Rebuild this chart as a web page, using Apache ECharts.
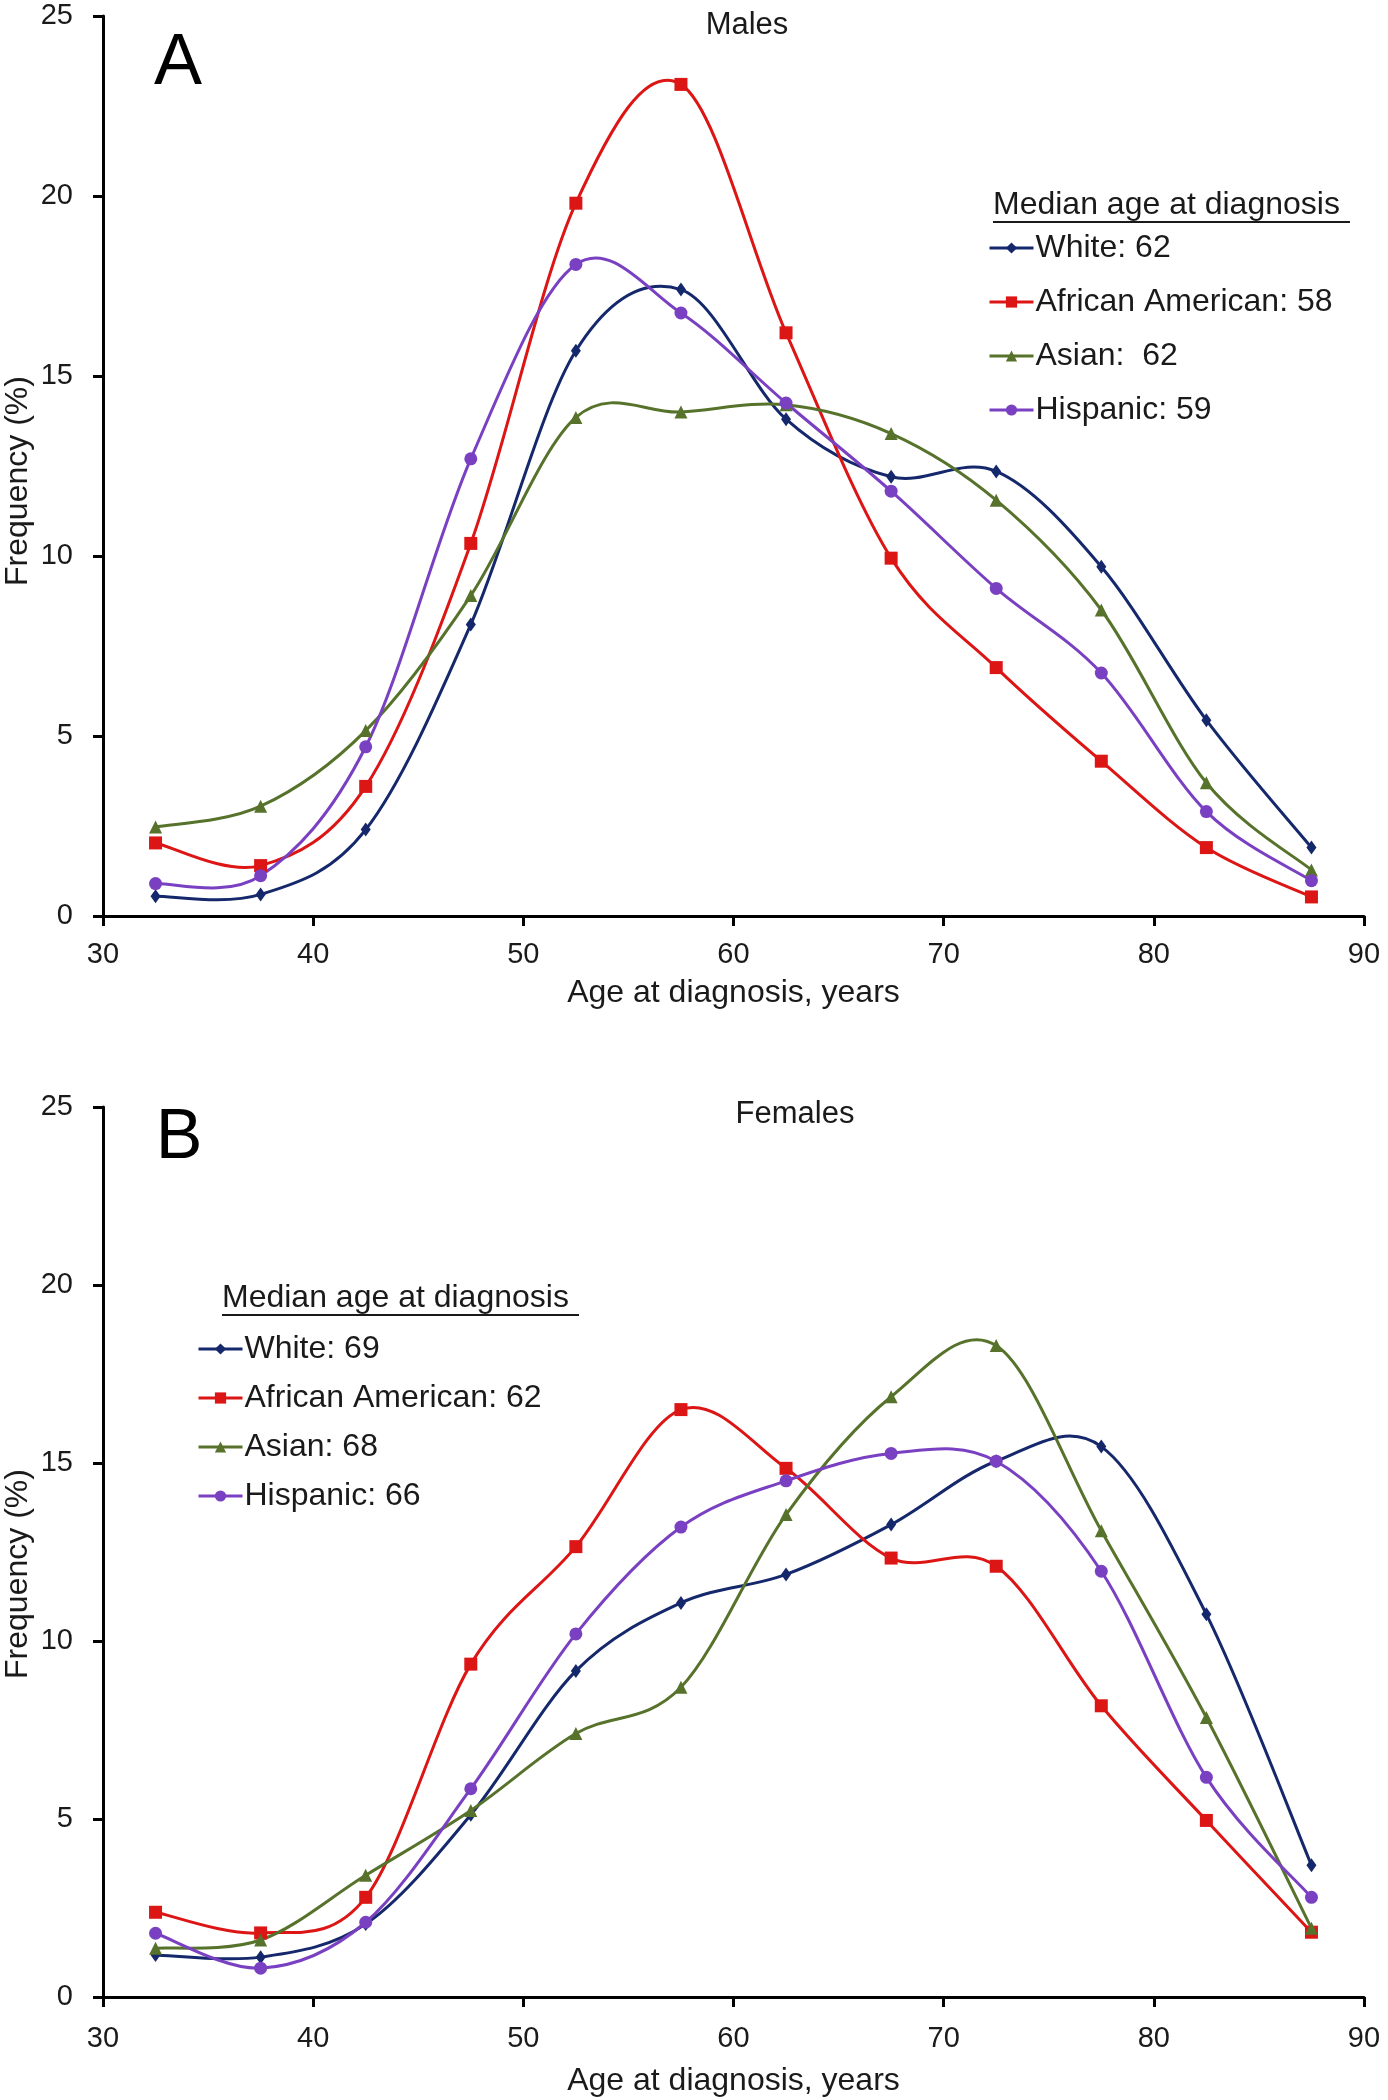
<!DOCTYPE html>
<html>
<head>
<meta charset="utf-8">
<script src="https://cdn.jsdelivr.net/npm/echarts@6/dist/echarts.min.js"></script>
<style>
  html, body { margin: 0; padding: 0; background: #ffffff; }
  #chart { width: 1388px; height: 2100px; }
</style>
</head>
<body>
<div id="chart"></div>
<script>
// ---- data ----
const ages = [32.5, 37.5, 42.5, 47.5, 52.5, 57.5, 62.5, 67.5, 72.5, 77.5, 82.5, 87.5];
const xTicks = [30, 40, 50, 60, 70, 80, 90];
const yTicks = [0, 5, 10, 15, 20, 25];

const maleNames = ['White: 62', 'African American: 58', 'Asian:  62', 'Hispanic: 59'];
const maleWhite    = [0.55, 0.6, 2.4, 8.1, 15.7, 17.4, 13.8, 12.2, 12.35, 9.7, 5.44, 1.9];
const maleAfrAm    = [2.03, 1.4, 3.6, 10.35, 19.8, 23.1, 16.2, 9.94, 6.9, 4.3, 1.9, 0.53];
const maleAsian    = [2.47, 3.05, 5.15, 8.9, 13.85, 14.0, 14.2, 13.4, 11.55, 8.5, 3.7, 1.28];
const maleHispanic = [0.9, 1.12, 4.7, 12.7, 18.1, 16.75, 14.25, 11.8, 9.1, 6.75, 2.9, 0.98];

const femaleNames = ['White: 69', 'African American: 62', 'Asian: 68', 'Hispanic: 66'];
const femWhite    = [1.18, 1.12, 2.05, 5.12, 9.16, 11.07, 11.87, 13.27, 15.05, 15.46, 10.75, 3.7];
const femAfrAm    = [2.38, 1.8, 2.8, 9.35, 12.65, 16.5, 14.85, 12.33, 12.1, 8.18, 4.96, 1.82];
const femAsian    = [1.37, 1.6, 3.42, 5.24, 7.4, 8.7, 13.55, 16.86, 18.3, 13.1, 7.85, 1.93];
const femHispanic = [1.79, 0.81, 2.1, 5.85, 10.2, 13.2, 14.5, 15.27, 15.05, 11.96, 6.17, 2.8];

const panelTitles = ['Males', 'Females'];
const panelLetters = ['A', 'B'];
const legendTitle = 'Median age at diagnosis';
const xName = 'Age at diagnosis, years';
const yName = 'Frequency (%)';

// ---- styles ----
const FONT = '"Liberation Sans", Arial, Helvetica, sans-serif';
const TXT = '#1a1a1a';
const styles = [
  { color: '#16286c', symbol: 'diamond', size: [10, 14] },
  { color: '#dc1515', symbol: 'rect', size: 13 },
  { color: '#56722b', symbol: 'triangle', size: 13 },
  { color: '#7a40c2', symbol: 'circle', size: 13 }
];

function pairs(vals) { return ages.map((a, i) => [a, vals[i]]); }

// Excel-like smoothed curve (Catmull-Rom -> cubic Bezier), positioned via api.coord
function curveSeries(name, vals, k, idx) {
  const n = ages.length;
  return {
    name: name + ' (curve)',
    type: 'custom',
    xAxisIndex: idx,
    yAxisIndex: idx,
    data: pairs(vals),
    encode: { x: 0, y: 1 },
    silent: true,
    z: 2,
    renderItem: function (params, api) {
      const i = params.dataIndex;
      if (i >= n - 1) return null;
      const c = j => {
        const jj = Math.max(0, Math.min(n - 1, j));
        return api.coord([ages[jj], vals[jj]]);
      };
      const p0 = c(i - 1), p1 = c(i), p2 = c(i + 1), p3 = c(i + 2);
      const t = 1 / 6;
      return {
        type: 'bezierCurve',
        shape: {
          x1: p1[0], y1: p1[1],
          cpx1: p1[0] + (p2[0] - p0[0]) * t, cpy1: p1[1] + (p2[1] - p0[1]) * t,
          cpx2: p2[0] - (p3[0] - p1[0]) * t, cpy2: p2[1] - (p3[1] - p1[1]) * t,
          x2: p2[0], y2: p2[1]
        },
        style: { stroke: styles[k].color, lineWidth: 3, fill: null, lineCap: 'round' }
      };
    }
  };
}

function makeSeries(names, sets, idx) {
  const out = [];
  sets.forEach((vals, k) => {
    out.push(curveSeries(names[k], vals, k, idx));
    out.push({
      name: names[k],
      type: 'line',
      xAxisIndex: idx,
      yAxisIndex: idx,
      data: pairs(vals),
      symbol: styles[k].symbol,
      symbolSize: styles[k].size,
      showSymbol: true,
      lineStyle: { color: styles[k].color, width: 3, opacity: 0 },
      itemStyle: { color: styles[k].color, borderColor: styles[k].color, borderWidth: 0 },
      emphasis: { disabled: true },
      z: 5 + k
    });
  });
  return out;
}

function makeX(idx, margin, nameGap) {
  return {
    type: 'value', gridIndex: idx, min: 30, max: 90, interval: 10,
    axisLine: { show: true, onZero: false, lineStyle: { color: '#000', width: 3 } },
    axisTick: { show: true, length: 10, lineStyle: { color: '#000', width: 3 } },
    splitLine: { show: false },
    axisLabel: { fontSize: 29, color: TXT, margin: margin, fontFamily: FONT,
                 formatter: v => (xTicks.indexOf(v) >= 0 ? String(v) : '') },
    name: xName, nameLocation: 'middle', nameGap: nameGap,
    nameTextStyle: { fontSize: 32, color: TXT, fontFamily: FONT }
  };
}
function makeY(idx) {
  return {
    type: 'value', gridIndex: idx, min: 0, max: 25, interval: 5,
    axisLine: { show: true, onZero: false, lineStyle: { color: '#000', width: 3 } },
    axisTick: { show: true, length: 10, lineStyle: { color: '#000', width: 3 } },
    splitLine: { show: false },
    axisLabel: { fontSize: 29, color: TXT, margin: 30, fontFamily: FONT,
                 formatter: v => (yTicks.indexOf(v) >= 0 ? String(v) : '') }
  };
}

function makeLegend(names, left, top, gap) {
  return {
    show: true, orient: 'vertical', left: left, top: top,
    data: names, itemWidth: 44, itemHeight: 14, itemGap: gap,
    selectedMode: false, padding: 0,
    lineStyle: { opacity: 1, width: 3 },
    textStyle: { fontSize: 32, color: TXT, fontFamily: FONT, padding: [0, 0, 0, -3], lineHeight: 36 }
  };
}

function underlinedText(text, x, y, w, lineY) {
  return [
    { type: 'text', x: x, y: y, style: { text: text, fontSize: 32, fontFamily: FONT, fill: TXT, textVerticalAlign: 'middle', textAlign: 'left' } },
    { type: 'line', shape: { x1: x, y1: lineY, x2: x + w, y2: lineY }, style: { stroke: TXT, lineWidth: 2 } }
  ];
}

function yTitle(cx, cy) {
  return { type: 'text', x: cx, y: cy, rotation: Math.PI / 2,
           style: { text: yName, fontSize: 32, fontFamily: FONT, fill: TXT, textAlign: 'center', textVerticalAlign: 'middle' } };
}

const chart = echarts.init(document.getElementById('chart'), null, { renderer: 'canvas' });

const option = {
  animation: false,
  backgroundColor: '#ffffff',
  grid: [
    { left: 103, right: 24, top: 16, height: 900, containLabel: false, outerBoundsMode: 'none' },
    { left: 103, right: 24, top: 1107, height: 890, containLabel: false, outerBoundsMode: 'none' }
  ],
  xAxis: [makeX(0, 24, 61), makeX(1, 27, 68)],
  yAxis: [makeY(0), makeY(1)],
  legend: [
    makeLegend(maleNames, 988, 230, 18),
    makeLegend(femaleNames, 197, 1331, 13)
  ],
  graphic: [
    { type: 'text', x: 178, y: 64, style: { text: panelLetters[0], fontSize: 72, fontFamily: FONT, fill: '#000', textAlign: 'center', textVerticalAlign: 'middle' } },
    { type: 'text', x: 179, y: 1139, style: { text: panelLetters[1], fontSize: 70, fontFamily: FONT, fill: '#000', textAlign: 'center', textVerticalAlign: 'middle' } },
    { type: 'text', x: 747, y: 25, style: { text: panelTitles[0], fontSize: 31, fontFamily: FONT, fill: TXT, textAlign: 'center', textVerticalAlign: 'middle' } },
    { type: 'text', x: 795, y: 1114, style: { text: panelTitles[1], fontSize: 31, fontFamily: FONT, fill: TXT, textAlign: 'center', textVerticalAlign: 'middle' } },
    yTitle(18, 481),
    yTitle(18, 1574)
  ].concat(underlinedText(legendTitle, 993, 205, 357, 222))
   .concat(underlinedText(legendTitle, 222, 1298, 357, 1315)),
  series: makeSeries(maleNames, [maleWhite, maleAfrAm, maleAsian, maleHispanic], 0)
    .concat(makeSeries(femaleNames, [femWhite, femAfrAm, femAsian, femHispanic], 1))
};

chart.setOption(option);
</script>
</body>
</html>
